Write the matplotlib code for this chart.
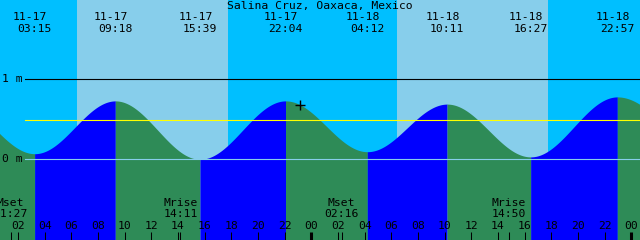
import numpy as np
import matplotlib
matplotlib.use("Agg")
import matplotlib.pyplot as plt
from matplotlib.transforms import blended_transform_factory

# ---------------- data ----------------
title = "Salina Cruz, Oaxaca, Mexico"
# high / low water (first and last are just outside the chart)
extreme_times = ["11-16 21:10", "11-17 03:15", "11-17 09:18", "11-17 15:39",
                 "11-17 22:04", "11-18 04:12", "11-18 10:11", "11-18 16:27",
                 "11-18 22:57", "11-19 05:05"]
extreme_heights = [0.71, 0.07, 0.73, 0.00, 0.73, 0.095, 0.69, 0.03, 0.78, 0.25]
sunrise_times = ["11-17 06:26", "11-18 06:26"]
sunset_times = ["11-17 17:45", "11-18 17:45"]
moon_events = ["Mset", "Mrise", "Mset", "Mrise"]
moon_times = ["11-17 01:27", "11-17 14:11", "11-18 02:16", "11-18 14:50"]
mean_level = 0.49
level_ticks = [1, 0]
level_labels = ["1 m", "0 m"]
now_time = "11-17 23:09"
hour_ticks = list(range(2, 49, 2))

# ---------------- helpers ----------------
def to_hours(s):
    d, t = s.split()
    day = int(d.split("-")[1]) - 17
    hh, mm = t.split(":")
    return day * 24 + int(hh) + int(mm) / 60.0

ext_h = np.array([to_hours(s) for s in extreme_times])
ext_v = np.array(extreme_heights)

def tide_at(h):
    h = np.atleast_1d(h)
    out = np.empty_like(h, dtype=float)
    for i in range(len(ext_h) - 1):
        m = (h >= ext_h[i]) & (h <= ext_h[i + 1])
        f = (h[m] - ext_h[i]) / (ext_h[i + 1] - ext_h[i])
        out[m] = ext_v[i + 1] + (ext_v[i] - ext_v[i + 1]) * (1 + np.cos(np.pi * f)) / 2
    return out

# ---------------- colours ----------------
NIGHT = "#00BFFF"
DAY = "#87CEEB"
RISE = "#0000FF"
FALL = "#2E8B57"
MSL = "#FFFF00"
DATUM = "#87CEEB"

PX_PER_H = 640 / 48.0
h0 = 8.7 / PX_PER_H
h1 = h0 + 48.0
ytop = 159.3 / 80.0
ybot = (159.3 - 240) / 80.0

fig = plt.figure(figsize=(6.4, 2.4), dpi=100)
ax = fig.add_axes([0, 0, 1, 1])
ax.set_xlim(h0, h1)
ax.set_ylim(ybot, ytop)
ax.axis("off")
ax.set_facecolor(NIGHT)
fig.patch.set_facecolor(NIGHT)
ax.axvspan(h0, h1, color=NIGHT, zorder=0, lw=0)

for sr, ss in zip(sunrise_times, sunset_times):
    ax.axvspan(to_hours(sr), to_hours(ss), color=DAY, zorder=0, lw=0)

# tide fills
for i in range(len(ext_h) - 1):
    hs = np.linspace(ext_h[i], ext_h[i + 1], 300)
    vs = tide_at(hs)
    col = RISE if ext_v[i + 1] > ext_v[i] else FALL
    ax.fill_between(hs, vs, ybot - 1, color=col, lw=0, zorder=1)

# level lines
ax.axhline(1, xmin=25 / 640, xmax=1, color="black", lw=0.8, zorder=2)
ax.axhline(mean_level, xmin=25 / 640, xmax=1, color=MSL, lw=0.8, zorder=2)
ax.axhline(0, xmin=25 / 640, xmax=1, color=DATUM, lw=0.8, zorder=2)

font = dict(family="DejaVu Sans Mono", fontsize=8.2, color="black")
tx = blended_transform_factory(ax.transAxes, ax.transData)
for lv, lab in zip(level_ticks, level_labels):
    ax.text(2 / 640, lv, lab, transform=tx, ha="left", va="center", zorder=3, **font)

ax.text(0.5, 1 - 6 / 240, title, transform=ax.transAxes, ha="center", va="center",
        zorder=3, **font)

tb = blended_transform_factory(ax.transData, ax.transAxes)
for s, hh in zip(extreme_times, ext_h):
    if h0 < hh < h1:
        d, t = s.split()
        ax.text(hh - 4.5 / PX_PER_H, 1 - 17 / 240, d, transform=tb, ha="center",
                va="center", zorder=3, **font)
        ax.text(hh, 1 - 29.5 / 240, t, transform=tb, ha="center", va="center",
                zorder=3, **font)

# moon events
for name, s in zip(moon_events, moon_times):
    hh = to_hours(s)
    ax.text(hh, 1 - 202.5 / 240, name, transform=tb, ha="center", va="center",
            zorder=3, **font)
    ax.text(hh, 1 - 214 / 240, s.split()[1], transform=tb, ha="center", va="center",
            zorder=3, **font)
    ax.plot([hh, hh], [0, 8 / 240], transform=tb, color="black", lw=0.75, zorder=3,
            solid_capstyle="butt")

# hour ticks
for hh in hour_ticks:
    lab = "%02d" % (hh % 24)
    ax.text(hh, 1 - 226 / 240, lab, transform=tb, ha="center", va="center",
            zorder=3, **font)
    lw = 2.2 if hh % 24 == 0 else 0.75
    ax.plot([hh, hh], [0, 8 / 240], transform=tb, color="black", lw=lw, zorder=3,
            solid_capstyle="butt")

# current time mark
nh = to_hours(now_time)
ax.plot([nh], tide_at(nh), marker="+", color="black", ms=6.5, mew=1.0, zorder=4)

fig.savefig("out.png", dpi=100, facecolor=NIGHT)
